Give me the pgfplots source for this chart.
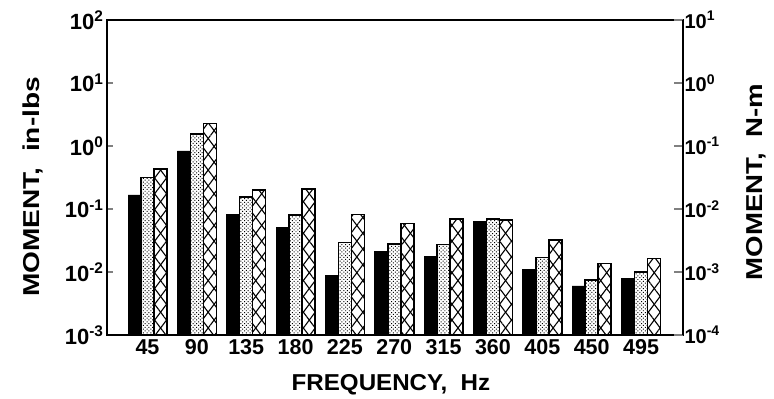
\documentclass[border=0pt]{standalone}
\usepackage{pgfplots}
\pgfplotsset{compat=1.18}
\usepackage{fontspec}
\setmainfont{Liberation Sans}
\usetikzlibrary{patterns,patterns.meta}

\pgfplotstableread{
x black dotted cross
1 0.167 0.318 0.43
2 0.834 1.55 2.29
3 0.0824 0.155 0.200
4 0.0505 0.080 0.206
5 0.00895 0.0292 0.0824
6 0.0215 0.0278 0.0593
7 0.0175 0.0275 0.0693
8 0.063 0.0693 0.0668
9 0.0108 0.0171 0.0322
10 0.0060 0.00746 0.01374
11 0.00794 0.0100 0.0165
}\datatable

\newcommand\lblfont[1]{\bfseries\fontsize{23}{27}\selectfont\addfontfeatures{FakeStretch=#1}}

\begin{document}
\begin{tikzpicture}
\useasboundingbox (-107pt,-64pt) rectangle (667pt,335pt);
\begin{axis}[
  scale only axis, width=576pt, height=315pt,
  at={(0,0)}, anchor=south west,
  ymode=log, ymin=1e-3, ymax=1e2, log origin y=infty,
  xmin=0.18, xmax=11.85,
  xtick={1,...,11},
  xticklabels={45,90,135,180,225,270,315,360,405,450,495},
  x tick style={draw=none},
  ytick={1e-3,1e-2,1e-1,1,10,100},
  yticklabels={10\textsuperscript{-3},10\textsuperscript{-2},10\textsuperscript{-1},10\textsuperscript{0},10\textsuperscript{1},10\textsuperscript{2}},
  yminorticks=false,
  ytick pos=left, tick align=inside, major tick length=6pt,
  y tick style={line width=1.4pt},
  axis line style={line width=1.8pt},
  xticklabel style={font=\bfseries\fontsize{21.5}{25}\selectfont, yshift=-1pt},
  yticklabel style={font=\bfseries\fontsize{22}{25}\selectfont},
  xlabel={FREQUENCY,\ \ Hz},
  ylabel={MOMENT,\ \ in-lbs},
  every axis x label/.style={at={(axis description cs:0.493,-0.158)}, anchor=center, font=\lblfont{1.05}},
  every axis y label/.style={at={(axis description cs:-0.128,0.47)}, rotate=90, anchor=center, font=\lblfont{1.22}},
]
\addplot[ybar, bar width=0.263, bar shift=-0.263, fill=black, draw=black, line width=0.8pt]
  table[x=x, y=black] {\datatable};
\addplot[ybar, bar width=0.263, bar shift=0, draw=black, line width=1.6pt,
  pattern={Dots[radius=0.7pt, distance=2.6pt, angle=45]}]
  table[x=x, y=dotted] {\datatable};
\addplot[ybar, bar width=0.263, bar shift=0.263, draw=black, line width=1.6pt,
  pattern={Lines[angle=53, distance=9.5pt, line width=1.1pt]},
  postaction={pattern={Lines[angle=-53, distance=9.5pt, line width=1.1pt]}}]
  table[x=x, y=cross] {\datatable};
\end{axis}
\begin{axis}[
  scale only axis, width=576pt, height=315pt,
  at={(0,0)}, anchor=south west,
  ymode=log, ymin=1e-4, ymax=1e1,
  xmin=0.18, xmax=11.85,
  axis x line=none, axis y line*=right,
  ytick={1e-4,1e-3,1e-2,1e-1,1,10},
  yticklabels={10\textsuperscript{-4},10\textsuperscript{-3},10\textsuperscript{-2},10\textsuperscript{-1},10\textsuperscript{0},10\textsuperscript{1}},
  yminorticks=false,
  tick align=inside, major tick length=9pt,
  y tick style={line width=1.4pt},
  axis line style={line width=1.8pt},
  yticklabel style={font=\bfseries\fontsize{20}{23}\selectfont, xshift=-2pt},
  ylabel={MOMENT,\ \ N-m},
  every axis y label/.style={at={(axis description cs:1.128,0.486)}, rotate=90, anchor=center, font=\lblfont{1.2}},
]
\addplot[draw=none] coordinates {(1,1e-3)};
\end{axis}
\end{tikzpicture}
\end{document}
